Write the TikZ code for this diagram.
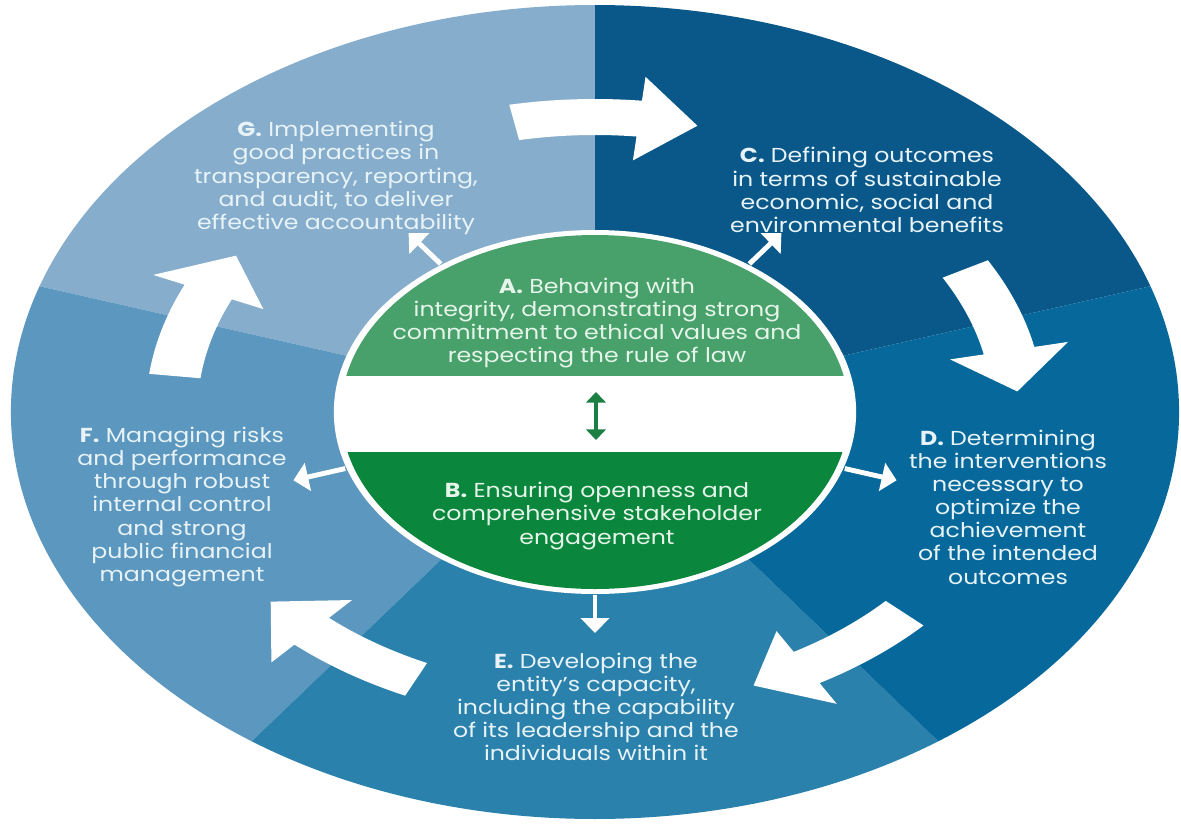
\documentclass[tikz,border=0pt]{standalone}
\usepackage{fontspec}
\setmainfont[FakeStretch=1.17]{Poppins}
\usetikzlibrary{calc, shapes, arrows, arrows.meta}
\usepackage{xcolor}
\definecolor{secC}{RGB}{9,88,137}
\definecolor{secD}{RGB}{7,105,155}
\definecolor{secE}{RGB}{42,129,172}
\definecolor{secF}{RGB}{91,151,190}
\definecolor{secG}{RGB}{134,174,204}
\definecolor{greenA}{RGB}{72,160,107}
\definecolor{greenB}{RGB}{10,135,61}
\definecolor{dblgreen}{RGB}{28,128,68}
\definecolor{txtlight}{RGB}{232,243,248}
\definecolor{txtgreen}{RGB}{230,245,234}

\begin{document}
\begin{tikzpicture}[x=0.02cm, y=0.02cm,
		txt/.style={align=center, text=txtlight, inner sep=0pt, font=\fontsize{11.5}{13.2}\selectfont},
		gtxt/.style={txt, text=txtgreen},
		spoke/.style={white, line width=2.8pt, -{Triangle[width=16pt,length=8.5pt]}},
		link/.style={dblgreen, line width=1.8pt, {Triangle[width=11pt,length=6pt]}-{Triangle[width=11pt,length=6pt]}}]
				\newcommand{\ringarrow}[1]{
					\fill[white] (#1+11:277) arc[start angle=#1+11, end angle=#1-6, radius=277]
						-- (#1-6:253) -- (#1-14:295) -- (#1-6:337)
						-- (#1-6:313) arc[start angle=#1-6, end angle=#1+11, radius=313] -- cycle;
				}
				%Page
				\fill[white] (-595,-411) rectangle (586,412);
				\useasboundingbox (-595,-411) rectangle (586,412);
				\begin{scope}[xscale=1.435]
				%Outer ring, one sector per principle
				\foreach \col/\a in {secC/18, secG/90, secF/162, secE/234, secD/306} {
					\fill[\col] (0,0) -- (\a:407) arc[start angle=\a, end angle=\a+72, radius=407] -- cycle;
				}
				%Big arrows between the sectors
				\foreach \a in {90, 18, -54, -126, 162} {
					\ringarrow{\a}
				}
				%Inner disc with the white band
				\fill[white] (0,0) circle (182);
				\begin{scope}
					\clip (0,0) circle (177);
					\fill[greenA] (-200,36) rectangle (200,200);
					\fill[greenB] (-200,-40) rectangle (200,-200);
				\end{scope}
				%Start and end of the small arrows
				\foreach \n/\a in {C/54, D/-18, E/-90, F/-162, G/126} {
					\coordinate (s\n) at (\a:183);
					\coordinate (t\n) at (\a:221);
				}
				\end{scope}
				%Texts in the ring
				\node [txt] (G) at (-259,234) {\textbf{G.} Implementing\\good practices in\\transparency, reporting,\\and audit, to deliver\\effective accountability};
				\node [txt] (C) at (272,222) {\textbf{C.} Defining outcomes\\in terms of sustainable\\economic, social and\\environmental benefits};
				\node [txt] (D) at (413,-95) {\textbf{D.} Determining\\the interventions\\necessary to\\optimize the\\achievement\\of the intended\\outcomes};
				\node [txt] (E) at (1,-295) {\textbf{E.} Developing the\\entity’s capacity,\\including the capability\\of its leadership and the\\individuals within it};
				\node [txt] (F) at (-413,-95) {\textbf{F.} Managing risks\\and performance\\through robust\\internal control\\and strong\\public financial\\management};
				%Texts in the disc
				\node [gtxt] (A) at (2,89) {\textbf{A.} Behaving with\\integrity, demonstrating strong\\commitment to ethical values and\\respecting the rule of law};
				\node [gtxt] (B) at (2,-104) {\textbf{B.} Ensuring openness and\\comprehensive stakeholder\\engagement};
				%A and B both ways
				\coordinate (up) at (1,20);
				\coordinate (dn) at (1,-28);
				\draw [link] (up) -- (dn);
				%Small arrows out of the disc
				\foreach \n in {C,D,E,F,G} {
					\draw [spoke] (s\n) -- (t\n);
				}
				\end{tikzpicture}
\end{document}
